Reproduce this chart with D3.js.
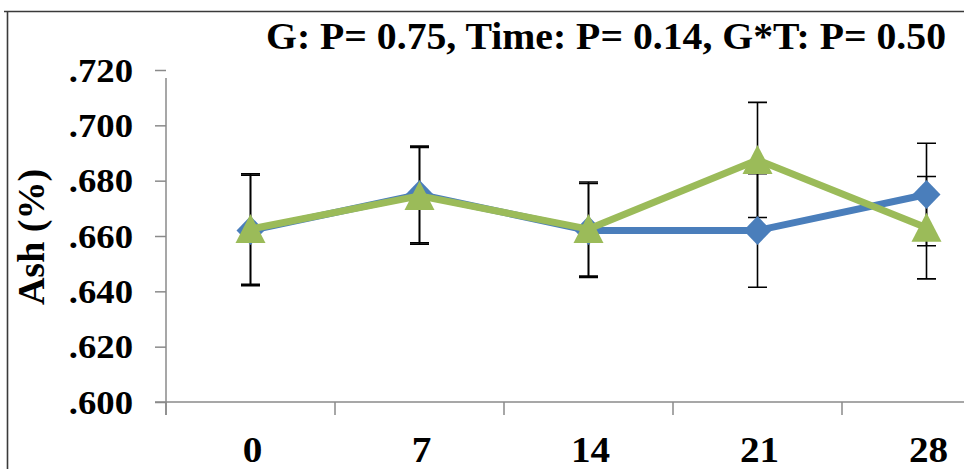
<!DOCTYPE html>
<html><head><meta charset="utf-8">
<script src="https://cdn.jsdelivr.net/npm/d3@7"></script>
<style>body{margin:0;background:#fff;}svg{display:block;}</style>
</head><body>
<svg id="c" width="964" height="469"></svg>
<script>
const categories = ["0","7","14","21","28"];
const blueValues = [0.662, 0.675, 0.662, 0.662, 0.675];
const blueErrors = [0.020, 0.0175, 0.017, 0.0205, 0.0185];
const greenValues = [0.6625, 0.6745, 0.6625, 0.6875, 0.663];
const greenErrors = [0.020, 0.0175, 0.017, 0.0208, 0.0185];
const yTicks = [0.600, 0.620, 0.640, 0.660, 0.680, 0.700, 0.720];
const titleText = "G: P= 0.75, Time: P= 0.14, G*T: P= 0.50";
const yTitle = "Ash (%)";

const svg = d3.select("#c");
const FONT = "'Liberation Serif','Times New Roman',serif";

const x = d3.scaleBand().domain(categories).range([166, 166 + 5 * 169]);
const y = d3.scaleLinear().domain([0.6, 0.72]).range([402, 70]);
const cx = c => x(c) + x.bandwidth() / 2;

// border
svg.append("path").attr("d", "M4,11.5H964M7.5,11V469")
  .attr("fill", "none").attr("stroke", "#3a3a3a").attr("stroke-width", 1.6);

// y axis
const yAxis = d3.axisLeft(y).tickValues(yTicks).tickSize(11).tickFormat(() => "");
const ga = svg.append("g").attr("transform", "translate(166,0)").call(yAxis);
ga.select(".domain").remove();
ga.selectAll(".tick line").attr("stroke", "#8a8a8a").attr("stroke-width", 1.5);
svg.append("line").attr("x1", 166).attr("x2", 166).attr("y1", y(0.72) + 8).attr("y2", 415)
  .attr("stroke", "#8a8a8a").attr("stroke-width", 1.5);

// y tick labels
yTicks.forEach(v => {
  svg.append("text").attr("transform", `translate(133,${y(v) + 11.5}) scale(1.08,1)`)
    .attr("text-anchor", "end").attr("font-family", FONT).attr("font-weight", "bold")
    .attr("font-size", 34).attr("fill", "#000")
    .text(d3.format(".3f")(v).replace(/^0/, ""));
});

// x axis
svg.append("line").attr("x1", 155).attr("x2", 964).attr("y1", 402).attr("y2", 402)
  .attr("stroke", "#8a8a8a").attr("stroke-width", 1.5);
const bounds = categories.map(c => x(c));
svg.selectAll(".xt").data(bounds).enter().append("line")
  .attr("x1", d => d).attr("x2", d => d).attr("y1", 402).attr("y2", 415)
  .attr("stroke", "#8a8a8a").attr("stroke-width", 1.5);
categories.forEach(c => {
  svg.append("text").attr("transform", `translate(${cx(c) + 2},462) scale(1.12,1)`)
    .attr("text-anchor", "middle").attr("font-family", FONT).attr("font-weight", "bold")
    .attr("font-size", 35).attr("fill", "#000").text(c);
});

// y title
svg.append("text").attr("transform", "translate(44,237) rotate(-90)")
  .attr("text-anchor", "middle").attr("font-family", FONT).attr("font-weight", "bold")
  .attr("font-size", 38).attr("fill", "#000").text(yTitle);

// title
svg.append("text").attr("x", 266).attr("y", 48.5)
  .attr("textLength", 680).attr("lengthAdjust", "spacingAndGlyphs")
  .attr("font-family", FONT).attr("font-weight", "bold")
  .attr("font-size", 37).attr("fill", "#000").text(titleText);

const series = [
  {vals: blueValues, errs: blueErrors, color: "#4a7ebb", shape: "diamond"},
  {vals: greenValues, errs: greenErrors, color: "#9bbb59", shape: "triangle"}
];

// error bars
series.forEach(s => {
  s.vals.forEach((v, i) => {
    const X = cx(categories[i]);
    const t = y(v + s.errs[i]), b = y(v - s.errs[i]);
    svg.append("path").attr("d", `M${X},${t}V${b}M${X - 9.5},${t}H${X + 9.5}M${X - 9.5},${b}H${X + 9.5}`)
      .attr("fill", "none").attr("stroke", "#000").attr("stroke-width", 1.6);
  });
});

const line = d3.line().x((d, i) => cx(categories[i])).y(d => y(d));
series.forEach(s => {
  svg.append("path").datum(s.vals).attr("d", line).attr("fill", "none")
    .attr("stroke", s.color).attr("stroke-width", 7).attr("stroke-linejoin", "round");
  s.vals.forEach((v, i) => {
    const X = cx(categories[i]), Y = y(v);
    const d = s.shape === "diamond"
      ? `M${X},${Y - 14.5}L${X + 14},${Y}L${X},${Y + 14.5}L${X - 14},${Y}Z`
      : `M${X},${Y - 15}L${X + 15},${Y + 14}L${X - 15},${Y + 14}Z`;
    svg.append("path").attr("d", d).attr("fill", s.color);
  });
});
</script>
</body></html>
